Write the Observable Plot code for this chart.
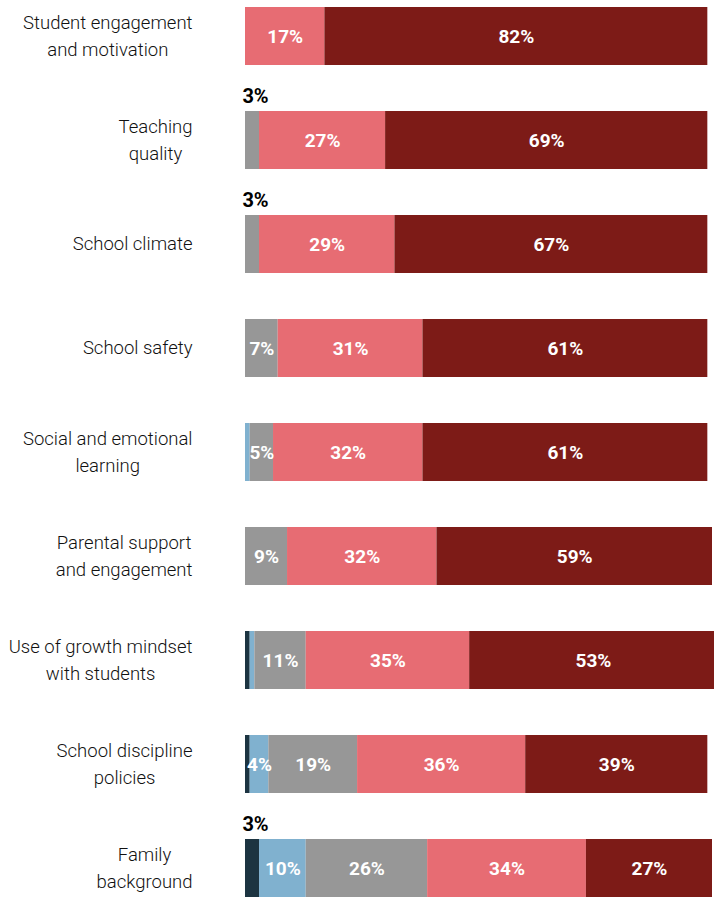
<!DOCTYPE html>
<html>
<head>
<meta charset="utf-8">
<script src="https://cdn.jsdelivr.net/npm/d3@7"></script>
<script src="https://cdn.jsdelivr.net/npm/@observablehq/plot@0.6"></script>
<style>
  html, body { margin: 0; padding: 0; background: #fff; overflow: hidden; }
  svg { display: block; }
</style>
</head>
<body>
<div id="chart"></div>
<script>
const categories = [
  "Student engagement\nand motivation",
  "Teaching\nquality",
  "School climate",
  "School safety",
  "Social and emotional\nlearning",
  "Parental support\nand engagement",
  "Use of growth mindset\nwith students",
  "School discipline\npolicies",
  "Family\nbackground"
];
const seriesNames = ["s1", "s2", "s3", "s4", "s5"];
const navy      = [0, 0, 0, 0, 0, 0, 1, 1, 3];
const lightBlue = [0, 0, 0, 0, 1, 0, 1, 4, 10];
const gray      = [0, 3, 3, 7, 5, 9, 11, 19, 26];
const pink      = [17, 27, 29, 31, 32, 32, 35, 36, 34];
const darkRed   = [82, 69, 67, 61, 61, 59, 53, 39, 27];
const seriesColors = ["#1c3441", "#80b1cf", "#979797", "#e76c73", "#7d1b17"];

const seriesValues = [navy, lightBlue, gray, pink, darkRed];
const data = [];
categories.forEach((c, i) => {
  seriesValues.forEach((arr, s) => {
    data.push({category: c, series: seriesNames[s], value: arr[i]});
  });
});

const font = "Roboto, 'Liberation Sans', sans-serif";
const labelSize = 18.5;
const ctx = document.createElement("canvas").getContext("2d");
ctx.font = `300 ${labelSize}px Roboto`;
const blockWidth = c => Math.max(...c.split("\n").map(l => ctx.measureText(l).width));

const labelMarks = categories.map(c => Plot.text([c], {
  y: d => d, text: d => d, frameAnchor: "left", textAnchor: "middle",
  dx: -53 - blockWidth(c) / 2, dy: -3,
  fontSize: labelSize, fontWeight: 300, fill: "#111", lineHeight: 1.5
}));

const chart = Plot.plot({
  width: 714,
  height: 898,
  marginLeft: 245,
  marginRight: 2,
  marginTop: 6,
  marginBottom: 0,
  style: {fontFamily: font, background: "#fff"},
  x: {domain: [0, 100], axis: null},
  y: {domain: categories, axis: null, paddingInner: 0.445, paddingOuter: 0},
  color: {domain: seriesNames, range: seriesColors},
  marks: [
    Plot.barX(data, Plot.stackX({x: "value", y: "category", fill: "series", z: "series"})),
    Plot.text(data, Plot.stackX({
      x: "value", y: "category", z: "series",
      text: d => d.value >= 4 ? `${d.value}%` : "",
      fill: "white", fontWeight: "bold", fontSize: 19
    })),
    Plot.text(data, Plot.stackX({
      x: "value", y: "category", z: "series",
      text: d => d.value === 3 ? `${d.value}%` : "",
      fill: "black", fontWeight: "bold", fontSize: 20, dy: -44, dx: 3
    })),
    ...labelMarks
  ]
});
document.getElementById("chart").append(chart);
</script>
</body>
</html>
